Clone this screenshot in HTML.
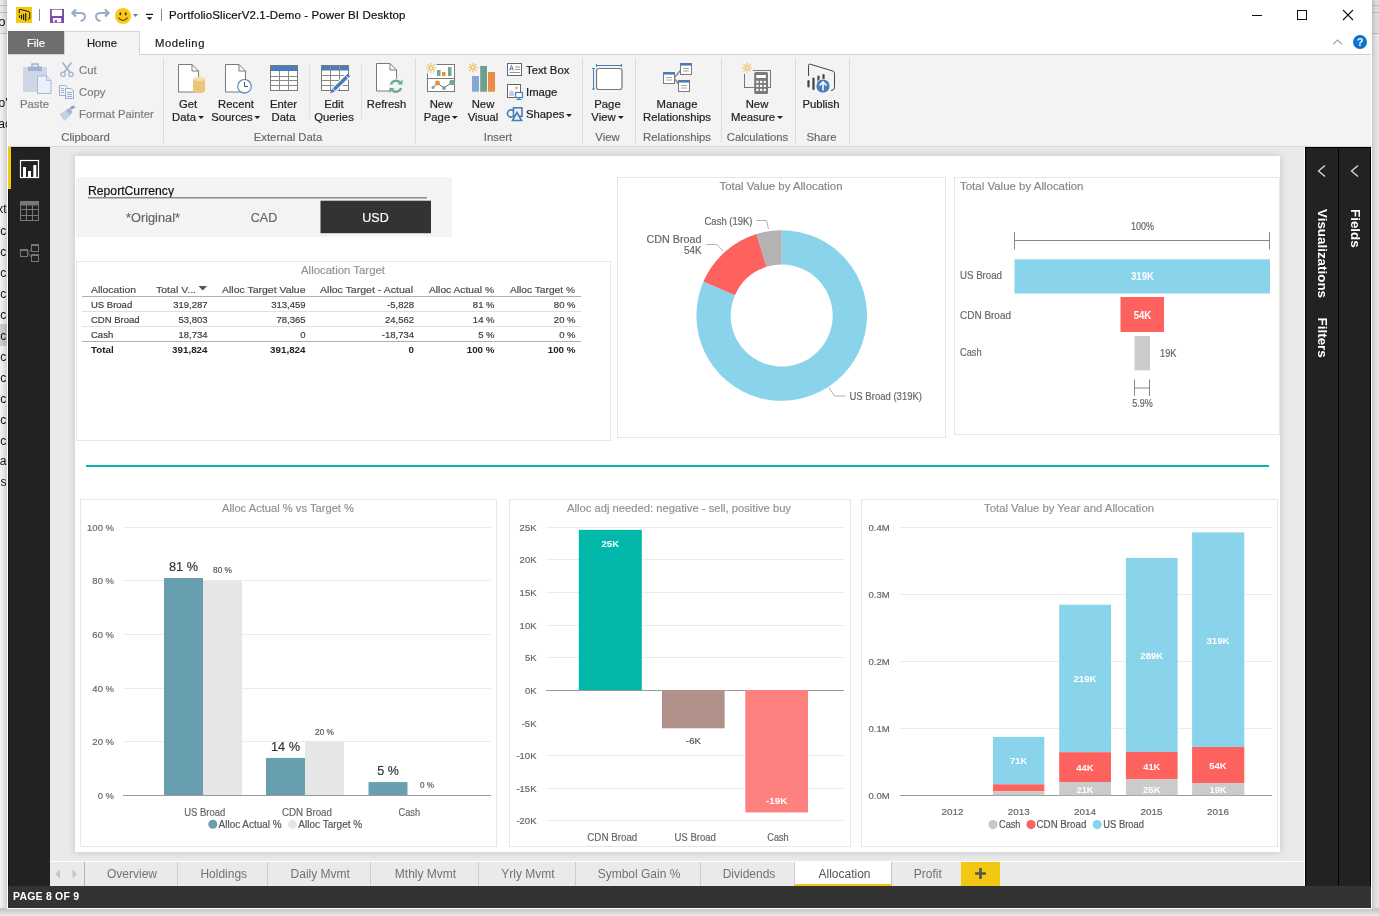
<!DOCTYPE html>
<html><head><meta charset="utf-8"><title>PortfolioSlicerV2.1-Demo - Power BI Desktop</title>
<style>
*{box-sizing:border-box;margin:0;padding:0}
html,body{width:1379px;height:916px;overflow:hidden}
body{position:relative;background:#efefef;font-family:"Liberation Sans",sans-serif;font-size:12px;color:#222}
.a{position:absolute}
.t{position:absolute;white-space:nowrap;line-height:1}
.c{transform:translateX(-50%)}
svg{position:absolute;overflow:visible}
svg text{font-family:"Liberation Sans",sans-serif}
/* ribbon */
.rl{-webkit-text-stroke:.2px #222;position:absolute;white-space:nowrap;line-height:13px;font-size:11.300px;color:#222;text-align:center;transform:translateX(-50%)}
.gl{position:absolute;white-space:nowrap;line-height:1;font-size:11.300px;color:#666;transform:translateX(-50%);top:131.900px;-webkit-text-stroke:.15px #666}
.sep{position:absolute;width:1px;background:#dcdcdc;top:58px;height:85px}
.sep2{position:absolute;width:1px;background:#e0e0e0;top:64px;height:55px}
.sm{-webkit-text-stroke:.2px #222;position:absolute;white-space:nowrap;line-height:1;font-size:11.300px;color:#222}
.dis{color:#7e7e7e;-webkit-text-stroke:.2px #7e7e7e}
.tab{position:absolute;top:862px;height:24px;line-height:24px;font-size:13px;color:#666;text-align:center;border-right:1px solid #c8c8c8}
</style></head><body>
<!-- BACKDROP -->
<div class="a" id="bg-left" style="left:0;top:0;width:8px;height:916px;background:#f1f1f1;overflow:hidden">
<div class="a" style="left:0;top:0;width:8px;height:34px;background:#eaeaea"></div>
<div class="a" style="left:0;top:5px;width:8px;height:1px;background:#c4c4c4"></div>
<div class="a" style="left:0;top:12px;width:8px;height:1px;background:#c4c4c4"></div>
<div class="a" style="left:0;top:33px;width:8px;height:1px;background:#c4c4c4"></div>
<div class="a" style="left:0;top:324px;width:8px;height:22px;background:#cdcdcd"></div>
<div class="t" style="right:2.5px;top:15.2px;font-size:13px;color:#111">Info</div>
<div class="t" style="right:0.5px;top:97.0px;font-size:12px;color:#111">o'</div>
<div class="t" style="right:-3px;top:118.0px;font-size:12px;color:#111">ac</div>
<div class="t" style="right:1.5px;top:202.6px;font-size:12px;color:#111">Text</div>
<div class="t" style="right:1.8px;top:224.5px;font-size:12px;color:#111">Calc</div>
<div class="t" style="right:1.8px;top:245.5px;font-size:12px;color:#111">Calc</div>
<div class="t" style="right:1.8px;top:266.5px;font-size:12px;color:#111">Calc</div>
<div class="t" style="right:1.8px;top:287.5px;font-size:12px;color:#111">Calc</div>
<div class="t" style="right:1.8px;top:308.5px;font-size:12px;color:#111">Calc</div>
<div class="t" style="right:1.8px;top:329.5px;font-size:12px;color:#111">Calc</div>
<div class="t" style="right:1.8px;top:350.5px;font-size:12px;color:#111">Calc</div>
<div class="t" style="right:1.8px;top:371.5px;font-size:12px;color:#111">Calc</div>
<div class="t" style="right:1.8px;top:392.5px;font-size:12px;color:#111">Calc</div>
<div class="t" style="right:1.8px;top:413.5px;font-size:12px;color:#111">Calc</div>
<div class="t" style="right:1.8px;top:434.5px;font-size:12px;color:#111">Calc</div>
<div class="t" style="right:-1px;top:455.3px;font-size:12px;color:#111">al</div>
<div class="t" style="right:1.5px;top:476.3px;font-size:12px;color:#111">es</div>
<div class="a" style="left:1px;top:0;width:6px;height:916px;background:linear-gradient(90deg,rgba(0,0,0,0) 0,rgba(0,0,0,.035) 1.500px,rgba(0,0,0,.085) 4px,rgba(0,0,0,.15) 6px)"></div><div class="a" style="left:7px;top:0;width:1px;height:909px;background:#fff"></div>
</div>
<div class="a" id="bg-right" style="left:1372px;top:0;width:7px;height:916px;background:linear-gradient(90deg,#c6c6c6 0,#dcdcdc 3px,#e7e7e7 7px)"></div>
<div class="a" style="left:1372px;top:5px;width:7px;height:1px;background:rgba(0,0,0,.13)"></div><div class="a" style="left:1372px;top:12px;width:7px;height:1px;background:rgba(0,0,0,.13)"></div><div class="a" style="left:1372px;top:33px;width:7px;height:1px;background:rgba(0,0,0,.13)"></div><div class="a" style="left:1372px;top:0;width:7px;height:34px;background:rgba(0,0,0,.03)"></div>
<div class="a" id="bg-bottom" style="left:0;top:908px;width:1379px;height:8px;background:linear-gradient(180deg,#c6c6c6 0,#c9c9c9 2px,#dadada 5px,#e9e9e9 8px)"></div>
<!-- WINDOW -->
<div class="a" style="left:7px;top:908px;width:1365px;height:1px;background:#fbfbfb"></div>
<div class="a" id="win" style="left:8px;top:0;width:1364px;height:908px;background:#eaeaea;border-right:1px solid #fff"></div>
<div class="a" style="left:8px;top:0;width:1364px;height:31px;background:#fff"></div>
<svg style="left:16px;top:7px" width="16" height="16" viewBox="0 0 16 16"><rect width="16" height="16" fill="#f2c811"/><path d="M3.3 6.3V3.1q0-.9.9-.7l8.6 2.2q.9.3.9 1.200v5.400q0 .9-1.500 1.100" fill="none" stroke="#111" stroke-width="1"/><path d="M3.500 8.800v1.400M5.500 8v3.600M7.600 7.300v5.200M9.700 6.500v7" stroke="#111" stroke-width="1.100" stroke-linecap="round"/></svg>
<div class="a" style="left:39px;top:9px;width:1px;height:12px;background:#8a8a8a"></div>
<svg style="left:50px;top:9px" width="14" height="14" viewBox="0 0 14 14"><rect width="14" height="14" fill="#7d4aa9"/><rect x="1.800" y=".7" width="10.300" height="6.300" fill="#fff"/><rect x="2.900" y="9" width="8.300" height="4.300" fill="#fff"/><rect x="4.800" y="11" width="2.100" height="2.300" fill="#7d4aa9"/></svg>
<svg style="left:72px;top:9px" width="15" height="14" viewBox="0 0 15 14"><path d="M4 .5L.5 4 4 7.500" fill="none" stroke="#99adca" stroke-width="2.400"/><path d="M1.500 4H8.500C12 4 13 6 13 7.500 13 10 11 11.500 8.500 12" fill="none" stroke="#99adca" stroke-width="2"/></svg>
<svg style="left:94px;top:9px" width="15" height="14" viewBox="0 0 15 14"><path d="M11 .5L14.500 4 11 7.500" fill="none" stroke="#99adca" stroke-width="2.400"/><path d="M13.500 4H6.500C3 4 2 6 2 7.500 2 10 4 11.500 6.500 12" fill="none" stroke="#99adca" stroke-width="2"/></svg>
<svg style="left:115px;top:8px" width="16" height="16" viewBox="0 0 16 16"><circle cx="8" cy="8" r="8" fill="#fbc816"/><ellipse cx="5.300" cy="5.800" rx="1" ry="1.600" fill="#333"/><ellipse cx="10.700" cy="5.800" rx="1" ry="1.600" fill="#333"/><path d="M3.400 9.600q4.600 5.800 9.200 0" fill="none" stroke="#4a4220" stroke-width="1.100"/></svg>
<svg style="left:133px;top:14px" width="6" height="4" viewBox="0 0 6 4"><path d="M0 0h5l-2.500 3z" fill="#777"/></svg>
<svg style="left:145px;top:12px" width="9" height="9" viewBox="0 0 9 9"><path d="M1 2.400h7" stroke="#111" stroke-width="1.200"/><path d="M1.700 5.300h5.600l-2.800 2.800z" fill="#111"/></svg>
<div class="a" style="left:161px;top:9px;width:1px;height:12px;background:#8a8a8a"></div>
<div class="t" id="title" style="-webkit-text-stroke:.2px #111;left:169px;top:10.200px;font-size:11.500px;color:#111;letter-spacing:.12px">PortfolioSlicerV2.1-Demo - Power BI Desktop</div>
<div class="a" style="left:1252px;top:15px;width:10px;height:1px;background:#111"></div>
<div class="a" style="left:1297px;top:10px;width:10px;height:10px;border:1px solid #111"></div>
<svg style="left:1343px;top:10px" width="10" height="10" viewBox="0 0 10 10"><path d="M0 0l10 10M10 0l-10 10" stroke="#111" stroke-width="1.100"/></svg>

<div class="a" style="left:8px;top:31px;width:1364px;height:23px;background:#fff"></div>
<div class="a" style="left:8px;top:54px;width:1363px;height:1px;background:#d4d4d4"></div>
<div class="a" style="left:8px;top:31px;width:56px;height:23px;background:#6e6e6e"></div>
<div class="t c" style="left:36px;top:38.200px;font-size:11.300px;color:#fff;-webkit-text-stroke:.2px #fff">File</div>
<div class="a" style="left:64px;top:31px;width:76px;height:24px;background:#f3f3f3;border:1px solid #d4d4d4;border-bottom:none"></div>
<div class="t c" style="left:102px;top:38.200px;font-size:11.300px;color:#222;-webkit-text-stroke:.2px #222">Home</div>
<div class="t c" style="left:180px;top:38.200px;font-size:11.300px;color:#222;letter-spacing:.5px;-webkit-text-stroke:.2px #222">Modeling</div>
<svg style="left:1333px;top:39px" width="9" height="6" viewBox="0 0 9 6"><path d="M.3 5.200L4.500 1l4.200 4.200" fill="none" stroke="#9a9a9a" stroke-width="1.100"/></svg>
<svg style="left:1353px;top:35px" width="14" height="14" viewBox="0 0 14 14"><circle cx="7" cy="7" r="7" fill="#0a74cc"/><text x="7" y="11" text-anchor="middle" font-size="11" font-weight="bold" fill="#fff">?</text></svg>

<div class="a" style="left:8px;top:55px;width:1363px;height:92px;background:#f3f3f3;border-bottom:1px solid #d8d8d8"></div>
<div class="a" style="left:65px;top:54px;width:74px;height:2px;background:#f3f3f3"></div>
<svg style="left:0;top:0" width="1379" height="147" viewBox="0 0 1379 147">
<!-- paste -->
<rect x="23" y="67" width="24" height="25" fill="#cdd7e8"/><rect x="28" y="66.500" width="14" height="4.500" fill="#a3b2cf"/><rect x="32" y="64" width="6" height="4" fill="none" stroke="#a3b2cf" stroke-width="1.500"/>
<path d="M37.500 75.900h9l4.500 4.500v13.100h-13.500z" fill="#e9f1fb" stroke="#a9b9d6"/><path d="M46.500 75.900v4.500h4.500" fill="none" stroke="#a9b9d6"/>
<!-- cut -->
<g stroke="#9fb0cd" fill="none" stroke-width="1.600"><path d="M62.500 62.500l7.500 10M71.500 62.500l-7.500 10"/><circle cx="63" cy="74.300" r="2.200" stroke-width="1.200"/><circle cx="71" cy="74.300" r="2.200" stroke-width="1.200"/></g>
<!-- copy -->
<g stroke="#9fb0cd" fill="#f3f3f3" stroke-width="1"><path d="M59.500 85.500h6l2 2v8h-8z"/><path d="M65.500 88.500h5.500l2.500 2.500v7.500h-8z"/></g><path d="M61 88.500h3M61 90.500h3M61 92.500h3M67 92.500h5M67 94.500h5M67 96.500h5" stroke="#9fb0cd" stroke-width="1" fill="none"/>
<!-- format painter -->
<path d="M59.500 114l7-4 4 5.500-6 5.500z" fill="#c5d0e4"/><path d="M66 110l3.500-2 3 4-2.500 3z" fill="#a3b2cf"/><path d="M70.500 108.500l4-2" stroke="#8fa3c6" stroke-width="3"/>
<!-- get data -->
<path d="M178.5 64.5h13.5l6.5 6.5v21h-20z" fill="#fff" stroke="#7a7a7a" stroke-width="1"/><path d="M192 64.5v6.5h6.5" fill="none" stroke="#7a7a7a" stroke-width="1"/>
<path d="M193 79v12a6 2 0 0 0 12 0v-12z" fill="#ecc47a"/><ellipse cx="199" cy="79" rx="6" ry="2.200" fill="#f6dcae"/>
<!-- recent -->
<path d="M225.5 64.5h13.5l6.5 6.5v21h-20z" fill="#fff" stroke="#7a7a7a" stroke-width="1"/><path d="M239 64.5v6.5h6.5" fill="none" stroke="#7a7a7a" stroke-width="1"/>
<circle cx="244.500" cy="86.300" r="6.800" fill="#fff" stroke="#4a7ebb" stroke-width="1.100"/><path d="M244.500 82v4.500h3.500" fill="none" stroke="#555" stroke-width="1"/>
<!-- enter data -->
<rect x="270.500" y="65.500" width="27" height="25" fill="#fff" stroke="#7a7a7a"/><rect x="271" y="66" width="26" height="5" fill="#4a7ebb"/><path d="M271 76.500h26M271 80.500h26M271 85.500h26M279.500 71v19M288.500 71v19" stroke="#8a8a8a" stroke-width="1"/>
<!-- edit queries -->
<rect x="321.500" y="65.500" width="27" height="25" fill="#fff" stroke="#7a7a7a"/><rect x="322" y="66" width="26" height="4.500" fill="#4a7ebb"/><path d="M322 75.500h26M322 80.500h26M322 85.500h26M330.500 66v24M339.500 66v24" stroke="#8a8a8a" stroke-width="1"/>
<path d="M348.500 75.500L333.500 90" stroke="#fff" stroke-width="6"/><path d="M348.800 75L334 89.500" stroke="#4a7ebb" stroke-width="3.600"/><path d="M330 93.500l2-5 3 3z" fill="#4a7ebb"/><path d="M346.500 76.500l2.500 2.500" stroke="#fff" stroke-width="1"/>
<!-- refresh -->
<path d="M376.5 63.5h13.5l6.5 6.5v21h-20z" fill="#fff" stroke="#7a7a7a" stroke-width="1"/><path d="M390 63.5v6.5h6.5" fill="none" stroke="#7a7a7a" stroke-width="1"/>
<circle cx="396" cy="86.300" r="7.500" fill="#f3f3f3"/><g fill="none" stroke="#6aab93" stroke-width="2.400"><path d="M391 84.500a5.300 5.300 0 0 1 9-2"/><path d="M401 88a5.300 5.300 0 0 1-9 2"/></g><path d="M402.500 79.500v5h-5z" fill="#6aab93"/><path d="M389.500 93v-5h5z" fill="#6aab93"/>
<!-- new page -->
<rect x="427.500" y="64.500" width="27" height="27" fill="#fff" stroke="#7a7a7a"/><path d="M428 78.500h26" stroke="#7a7a7a"/>
<rect x="437" y="70" width="3.500" height="6" fill="#72a794"/><rect x="442" y="72" width="3.500" height="4" fill="#ed8b3a"/><rect x="448" y="67" width="3.500" height="9" fill="#72a794"/>
<path d="M433 87.500l4.500-4.500 6.500 5 8-5.500" fill="none" stroke="#666" stroke-width="1"/><circle cx="433" cy="87.500" r="1.500" fill="#72a794"/><circle cx="437.500" cy="83" r="2.400" fill="#ed8b3a"/><circle cx="444" cy="88" r="1.900" fill="#72a794"/><circle cx="452" cy="82.500" r="2.800" fill="#72a794"/>
<circle cx="431" cy="67.800" r="6.500" fill="#f3f3f3"/><g stroke="#f0c77c" stroke-width="1.300" fill="none"><path d="M431 62.8v10M426 67.8h10M427.4 64.2l7.2 7.2M434.6 64.2l-7.2 7.2"/></g><circle cx="431" cy="67.8" r="1.700" fill="#f3f3f3" stroke="#f0c77c" stroke-width="1.200"/>
<!-- new visual -->
<rect x="472" y="76" width="7" height="15.700" fill="#84a8d6"/><rect x="480.200" y="66" width="6.800" height="25.700" fill="#6d9f8c"/><rect x="488" y="72" width="7" height="19.700" fill="#ea8c46"/><g stroke="#f0c77c" stroke-width="1.300" fill="none"><path d="M472.9 62.4v10M467.9 67.4h10M469.3 63.8l7.2 7.2M476.5 63.8l-7.2 7.2"/></g><circle cx="472.9" cy="67.4" r="1.700" fill="#f3f3f3" stroke="#f0c77c" stroke-width="1.200"/>
<!-- text box -->
<rect x="507.500" y="63.500" width="14" height="12" fill="#fff" stroke="#666"/><path d="M515 67h5M515 69.500h5M509.500 72.500h10.500" stroke="#8a8a8a" stroke-width=".9"/><path d="M509.500 70.500l2-5 2 5M510.300 69h2.500" fill="none" stroke="#4a7ebb" stroke-width="1"/>
<!-- image -->
<rect x="507.500" y="84.500" width="13" height="13" fill="#fff" stroke="#666"/><circle cx="516.500" cy="88" r="1.300" fill="#eaa65a"/><path d="M509 96v-3.500l2.500-2.500 2.500 2.500v3.500z" fill="#bcd0ea"/><rect x="515.500" y="92.500" width="7" height="5" fill="#fff" stroke="#4a7ebb" stroke-width="1.200"/><path d="M519 97.500v2M516.500 99.500h5" stroke="#4a7ebb" stroke-width="1.200"/>
<!-- shapes -->
<g fill="none" stroke="#4a7ebb" stroke-width="1.600"><circle cx="511" cy="113.500" r="3.600"/><rect x="513.500" y="107.800" width="8.500" height="8.500" fill="#f3f3f3"/><path d="M517 112.500l4.500 8h-9z" fill="#f3f3f3"/></g>
<!-- page view -->
<rect x="596.500" y="68.500" width="25.500" height="21" rx="2.500" fill="#fff" stroke="#777" stroke-width="1.200"/><path d="M596 65.500h26M596.500 64v3M621.500 64v3M593.500 68v21.500M592 68.500h3M592 89h3" stroke="#4a7ebb" stroke-width="1"/>
<!-- manage rel -->
<path d="M674 78l8-9.500M674 78l6 8" stroke="#8a8a8a" stroke-width="1.500"/>
<g fill="#fff" stroke="#7a7a7a"><rect x="663.500" y="72.500" width="11" height="11"/><rect x="680.500" y="63.500" width="11" height="11"/><rect x="678.500" y="80.500" width="11" height="11"/></g>
<rect x="663" y="72" width="12" height="2.600" fill="#4a7ebb"/><rect x="680" y="63" width="12" height="2.600" fill="#4a7ebb"/><rect x="678" y="80" width="12" height="2.600" fill="#4a7ebb"/>
<path d="M666 77.500h6M666 80h6M683 68.500h6M683 71h6M681 85.500h6M681 88h6" stroke="#9a9a9a" stroke-width=".9"/>
<!-- new measure -->
<rect x="744.500" y="70.500" width="26" height="17" fill="#f3f3f3" stroke="#777"/><rect x="754.200" y="72" width="13.800" height="22" rx="1.500" fill="#7a7a7a"/><rect x="756.300" y="75" width="9.600" height="3" fill="#fff"/>
<g fill="#fff"><rect x="756.300" y="80.800" width="2.200" height="2.200"/><rect x="760" y="80.800" width="2.200" height="2.200"/><rect x="763.700" y="80.800" width="2.200" height="2.200"/><rect x="756.300" y="84.800" width="2.200" height="2.200"/><rect x="760" y="84.800" width="2.200" height="2.200"/><rect x="763.700" y="84.800" width="2.200" height="2.200"/><rect x="756.300" y="88.800" width="2.200" height="2.200"/><rect x="760" y="88.800" width="2.200" height="2.200"/><rect x="763.700" y="88.800" width="2.200" height="2.200"/></g>
<circle cx="747.100" cy="67.800" r="6.500" fill="#f3f3f3"/><g stroke="#f0c77c" stroke-width="1.300" fill="none"><path d="M747.1 62.8v10M742.1 67.8h10M743.5 64.2l7.2 7.2M750.7 64.2l-7.2 7.2"/></g><circle cx="747.1" cy="67.8" r="1.700" fill="#f3f3f3" stroke="#f0c77c" stroke-width="1.200"/>
<!-- publish -->
<path d="M808.500 76v-10.500q0-1.800 1.800-1.300l22.400 6.800q1.800.6 1.800 2.400v14q0 3-3.500 3.200" fill="none" stroke="#444" stroke-width="1"/>
<path d="M808.500 81v5.500M813.500 78.500v10.500M818.500 76.500v6M823.500 75v4" stroke="#444" stroke-width="2.200" stroke-linecap="round"/>
<circle cx="823" cy="86" r="7.300" fill="#f3f3f3"/><circle cx="823" cy="86" r="6.600" fill="#4a7ebb"/><path d="M823 90.500v-8M819.500 85.500l3.500-3.500 3.500 3.500" fill="none" stroke="#fff" stroke-width="1.600"/>
</svg>
<div class="rl dis" style="left:34.5px;top:97.500px">Paste</div>
<div class="rl" style="left:188px;top:97.500px">Get<br>Data<span style="display:inline-block;width:0;height:0;border:3px solid transparent;border-top:3.500px solid #222;border-bottom:0;margin-left:2px;vertical-align:1.500px"></span></div>
<div class="rl" style="left:236px;top:97.500px">Recent<br>Sources<span style="display:inline-block;width:0;height:0;border:3px solid transparent;border-top:3.500px solid #222;border-bottom:0;margin-left:2px;vertical-align:1.500px"></span></div>
<div class="rl" style="left:283.5px;top:97.500px">Enter<br>Data</div>
<div class="rl" style="left:334px;top:97.500px">Edit<br>Queries</div>
<div class="rl" style="left:386.5px;top:97.500px">Refresh</div>
<div class="rl" style="left:441px;top:97.500px">New<br>Page<span style="display:inline-block;width:0;height:0;border:3px solid transparent;border-top:3.500px solid #222;border-bottom:0;margin-left:2px;vertical-align:1.500px"></span></div>
<div class="rl" style="left:483px;top:97.500px">New<br>Visual</div>
<div class="rl" style="left:607.5px;top:97.500px">Page<br>View<span style="display:inline-block;width:0;height:0;border:3px solid transparent;border-top:3.500px solid #222;border-bottom:0;margin-left:2px;vertical-align:1.500px"></span></div>
<div class="rl" style="left:677px;top:97.500px">Manage<br>Relationships</div>
<div class="rl" style="left:757px;top:97.500px">New<br>Measure<span style="display:inline-block;width:0;height:0;border:3px solid transparent;border-top:3.500px solid #222;border-bottom:0;margin-left:2px;vertical-align:1.500px"></span></div>
<div class="rl" style="left:821px;top:97.500px">Publish</div>
<div class="sm dis" style="left:79px;top:64.900px">Cut</div>
<div class="sm dis" style="left:79px;top:87.100px">Copy</div>
<div class="sm dis" style="left:79px;top:109.100px">Format Painter</div>
<div class="sm" style="left:526px;top:64.900px">Text Box</div>
<div class="sm" style="left:526px;top:87.100px">Image</div>
<div class="sm" style="left:526px;top:109.100px">Shapes<span style="display:inline-block;width:0;height:0;border:3px solid transparent;border-top:3.500px solid #222;border-bottom:0;margin-left:2px;vertical-align:1.500px"></span></div>
<div class="gl" style="left:85.5px">Clipboard</div>
<div class="gl" style="left:288px">External Data</div>
<div class="gl" style="left:498px">Insert</div>
<div class="gl" style="left:607.5px">View</div>
<div class="gl" style="left:677px">Relationships</div>
<div class="gl" style="left:757.5px">Calculations</div>
<div class="gl" style="left:821.5px">Share</div>
<div class="sep" style="left:163px"></div><div class="sep" style="left:415px"></div><div class="sep" style="left:582px"></div><div class="sep" style="left:635px"></div><div class="sep" style="left:721px"></div><div class="sep" style="left:795px"></div><div class="sep" style="left:849px"></div><div class="sep2" style="left:309px"></div><div class="sep2" style="left:361px"></div>

<!--NAV-->
<div class="a" style="left:8px;top:147px;width:42px;height:739px;background:#222;border-left:1px solid #111;border-top:1px solid #111"></div>
<div class="a" style="left:8px;top:147px;width:3px;height:42px;background:#f2c811"></div>
<svg style="left:0;top:0" width="60" height="300" viewBox="0 0 60 300">
<rect x="20.500" y="160.500" width="18" height="17" fill="none" stroke="#fff" stroke-width="1.200"/><rect x="23" y="167" width="3" height="10.500" fill="#fff"/><rect x="28" y="171" width="3" height="6.500" fill="#fff"/><rect x="33.300" y="165" width="3" height="12.500" fill="#fff"/>
<g stroke="#777" fill="none" stroke-width="1"><rect x="20.500" y="201.500" width="18" height="19"/><path d="M20.500 209.500h18M20.500 215.500h18M26.500 205v15.500M32.500 205v15.500"/></g><rect x="20" y="201" width="19" height="4.500" fill="#777"/>
<g stroke="#777" fill="none" stroke-width="1"><rect x="20.500" y="249.500" width="7" height="7"/><rect x="31.500" y="244.500" width="7" height="7"/><rect x="31.500" y="254.500" width="7" height="7"/><path d="M27.500 253l4-4M27.500 253l4 4"/></g><rect x="20" y="249" width="8" height="2" fill="#777"/><rect x="31" y="244" width="8" height="2" fill="#777"/><rect x="31" y="254" width="8" height="2" fill="#777"/>
</svg>
<!--/NAV-->
<!--CANVAS-->
<div class="a" style="left:75px;top:156px;width:1205px;height:696px;background:#fff;box-shadow:0 0 7px 1px rgba(0,0,0,.13)"></div>
<svg style="left:0;top:0" width="1379" height="916" viewBox="0 0 1379 916" id="cv">
<rect x="76" y="177" width="376" height="60" fill="#f4f4f4"/>
<text x="88" y="195" font-size="12.5" fill="#111" textLength="86" lengthAdjust="spacingAndGlyphs" stroke="#111" stroke-width=".18">ReportCurrency</text>
<rect x="88" y="197" width="339" height="1.5" fill="#8c8c8c"/>
<text x="153" y="222" font-size="12.5" fill="#666" text-anchor="middle" textLength="54" lengthAdjust="spacingAndGlyphs" stroke="#666" stroke-width=".18">*Original*</text>
<text x="264" y="222" font-size="12.5" fill="#666" text-anchor="middle" stroke="#666" stroke-width=".18">CAD</text>
<rect x="320.5" y="200.7" width="110.5" height="32.5" fill="#333"/>
<text x="375.5" y="222" font-size="12.5" fill="#fff" text-anchor="middle" stroke="#fff" stroke-width=".18">USD</text>
<rect x="76.5" y="261.5" width="534" height="179" fill="none" stroke="#e6e6e6" stroke-width="1"/>
<text x="343" y="273.8" font-size="11.5" fill="#929292" text-anchor="middle" textLength="84" lengthAdjust="spacingAndGlyphs" stroke="#929292" stroke-width=".18">Allocation Target</text>
<text x="91" y="292.5" font-size="9.8" fill="#4a4a4a" textLength="45" lengthAdjust="spacingAndGlyphs" stroke="#4a4a4a" stroke-width=".18">Allocation</text>
<text x="156" y="292.5" font-size="9.8" fill="#4a4a4a" textLength="40" lengthAdjust="spacingAndGlyphs" stroke="#4a4a4a" stroke-width=".18">Total V...</text>
<text x="305.5" y="292.5" font-size="9.8" fill="#4a4a4a" text-anchor="end" textLength="83.5" lengthAdjust="spacingAndGlyphs" stroke="#4a4a4a" stroke-width=".18">Alloc Target Value</text>
<text x="413" y="292.5" font-size="9.8" fill="#4a4a4a" text-anchor="end" textLength="93" lengthAdjust="spacingAndGlyphs" stroke="#4a4a4a" stroke-width=".18">Alloc Target - Actual</text>
<text x="494" y="292.5" font-size="9.8" fill="#4a4a4a" text-anchor="end" textLength="65" lengthAdjust="spacingAndGlyphs" stroke="#4a4a4a" stroke-width=".18">Alloc Actual %</text>
<text x="575" y="292.5" font-size="9.8" fill="#4a4a4a" text-anchor="end" textLength="65" lengthAdjust="spacingAndGlyphs" stroke="#4a4a4a" stroke-width=".18">Alloc Target %</text>
<path d="M198.500 286h8.500l-4.250 4.500z" fill="#555"/>
<rect x="82" y="296" width="499" height="1" fill="#b0b0b0"/>
<rect x="82" y="311" width="499" height="1" fill="#e0e0e0"/>
<rect x="82" y="326" width="499" height="1" fill="#e0e0e0"/>
<rect x="82" y="341" width="499" height="1" fill="#b0b0b0"/>
<text x="91" y="307.6" font-size="9.5" fill="#3a3a3a" stroke="#3a3a3a" stroke-width=".18">US Broad</text>
<text x="207.5" y="307.6" font-size="9.5" fill="#3a3a3a" text-anchor="end" stroke="#3a3a3a" stroke-width=".18">319,287</text>
<text x="305.5" y="307.6" font-size="9.5" fill="#3a3a3a" text-anchor="end" stroke="#3a3a3a" stroke-width=".18">313,459</text>
<text x="414" y="307.6" font-size="9.5" fill="#3a3a3a" text-anchor="end" stroke="#3a3a3a" stroke-width=".18">-5,828</text>
<text x="494.5" y="307.6" font-size="9.5" fill="#3a3a3a" text-anchor="end" stroke="#3a3a3a" stroke-width=".18">81 %</text>
<text x="575.5" y="307.6" font-size="9.5" fill="#3a3a3a" text-anchor="end" stroke="#3a3a3a" stroke-width=".18">80 %</text>
<text x="91" y="322.6" font-size="9.5" fill="#3a3a3a" stroke="#3a3a3a" stroke-width=".18">CDN Broad</text>
<text x="207.5" y="322.6" font-size="9.5" fill="#3a3a3a" text-anchor="end" stroke="#3a3a3a" stroke-width=".18">53,803</text>
<text x="305.5" y="322.6" font-size="9.5" fill="#3a3a3a" text-anchor="end" stroke="#3a3a3a" stroke-width=".18">78,365</text>
<text x="414" y="322.6" font-size="9.5" fill="#3a3a3a" text-anchor="end" stroke="#3a3a3a" stroke-width=".18">24,562</text>
<text x="494.5" y="322.6" font-size="9.5" fill="#3a3a3a" text-anchor="end" stroke="#3a3a3a" stroke-width=".18">14 %</text>
<text x="575.5" y="322.6" font-size="9.5" fill="#3a3a3a" text-anchor="end" stroke="#3a3a3a" stroke-width=".18">20 %</text>
<text x="91" y="337.6" font-size="9.5" fill="#3a3a3a" stroke="#3a3a3a" stroke-width=".18">Cash</text>
<text x="207.5" y="337.6" font-size="9.5" fill="#3a3a3a" text-anchor="end" stroke="#3a3a3a" stroke-width=".18">18,734</text>
<text x="305.5" y="337.6" font-size="9.5" fill="#3a3a3a" text-anchor="end" stroke="#3a3a3a" stroke-width=".18">0</text>
<text x="414" y="337.6" font-size="9.5" fill="#3a3a3a" text-anchor="end" stroke="#3a3a3a" stroke-width=".18">-18,734</text>
<text x="494.5" y="337.6" font-size="9.5" fill="#3a3a3a" text-anchor="end" stroke="#3a3a3a" stroke-width=".18">5 %</text>
<text x="575.5" y="337.6" font-size="9.5" fill="#3a3a3a" text-anchor="end" stroke="#3a3a3a" stroke-width=".18">0 %</text>
<text x="91" y="352.6" font-size="9.8" fill="#222" font-weight="bold">Total</text>
<text x="207.5" y="352.6" font-size="9.8" fill="#222" text-anchor="end" font-weight="bold">391,824</text>
<text x="305.5" y="352.6" font-size="9.8" fill="#222" text-anchor="end" font-weight="bold">391,824</text>
<text x="414" y="352.6" font-size="9.8" fill="#222" text-anchor="end" font-weight="bold">0</text>
<text x="494.5" y="352.6" font-size="9.8" fill="#222" text-anchor="end" font-weight="bold">100 %</text>
<text x="575.5" y="352.6" font-size="9.8" fill="#222" text-anchor="end" font-weight="bold">100 %</text>
<rect x="617.5" y="177.5" width="328" height="260" fill="none" stroke="#e6e6e6" stroke-width="1"/>
<text x="781" y="190" font-size="11.5" fill="#868686" text-anchor="middle" textLength="123" lengthAdjust="spacingAndGlyphs" stroke="#868686" stroke-width=".18">Total Value by Allocation</text>
<path d="M781.70 230.20A85.3 85.3 0 1 1 703.42 281.62L734.89 295.25A51 51 0 1 0 781.70 264.50z" fill="#8ad4eb"/>
<path d="M703.42 281.62A85.3 85.3 0 0 1 756.48 234.01L766.62 266.78A51 51 0 0 0 734.89 295.25z" fill="#fd625e"/>
<path d="M756.48 234.01A85.3 85.3 0 0 1 781.70 230.20L781.70 264.50A51 51 0 0 0 766.62 266.78z" fill="#b3b3b3"/>
<g fill="none" stroke="#b0b0b0" stroke-width="1"><path d="M756.500 220.500h10l2 8.500"/><path d="M706.500 244.500h10.500l6 6.500"/><path d="M829 387.500l5.500 8.500h11"/></g>
<text x="752.5" y="225" font-size="10.5" fill="#666" text-anchor="end" textLength="48" lengthAdjust="spacingAndGlyphs" stroke="#666" stroke-width=".18">Cash (19K)</text>
<text x="701.5" y="242.8" font-size="10.5" fill="#666" text-anchor="end" textLength="55" lengthAdjust="spacingAndGlyphs" stroke="#666" stroke-width=".18">CDN Broad</text>
<text x="701.5" y="254.2" font-size="10.5" fill="#666" text-anchor="end" textLength="17.5" lengthAdjust="spacingAndGlyphs" stroke="#666" stroke-width=".18">54K</text>
<text x="849.5" y="400.3" font-size="10.5" fill="#666" textLength="72.5" lengthAdjust="spacingAndGlyphs" stroke="#666" stroke-width=".18">US Broad (319K)</text>
<rect x="954.5" y="177.5" width="325" height="257" fill="none" stroke="#e6e6e6" stroke-width="1"/>
<text x="960" y="190" font-size="11.5" fill="#888" textLength="123.5" lengthAdjust="spacingAndGlyphs" stroke="#888" stroke-width=".18">Total Value by Allocation</text>
<text x="1142.5" y="230.3" font-size="10.3" fill="#666" text-anchor="middle" textLength="23" lengthAdjust="spacingAndGlyphs" stroke="#666" stroke-width=".18">100%</text>
<path d="M1014.500 240.500h255M1014.500 232v17.500M1269.500 232v17.500M1134.500 388h15.500M1134.500 379.500v16.500M1149.500 379.500v16.500" stroke="#888" stroke-width="1" fill="none"/>
<rect x="1014.5" y="259.3" width="255.5" height="34.2" fill="#8ad4eb"/>
<text x="1142.5" y="280" font-size="10.5" fill="#fff" text-anchor="middle" font-weight="bold" textLength="23" lengthAdjust="spacingAndGlyphs">319K</text>
<rect x="1120.5" y="297" width="43.5" height="35" fill="#fd625e"/>
<text x="1142.5" y="318.5" font-size="10.5" fill="#fff" text-anchor="middle" font-weight="bold" textLength="17.5" lengthAdjust="spacingAndGlyphs">54K</text>
<rect x="1134.5" y="336" width="15.5" height="34.3" fill="#cbcbcb"/>
<text x="1160" y="357" font-size="10" fill="#666" textLength="16.5" lengthAdjust="spacingAndGlyphs" stroke="#666" stroke-width=".18">19K</text>
<text x="1142.5" y="407.3" font-size="10.3" fill="#666" text-anchor="middle" textLength="20.5" lengthAdjust="spacingAndGlyphs" stroke="#666" stroke-width=".18">5.9%</text>
<text x="960" y="279" font-size="10.5" fill="#666" textLength="42" lengthAdjust="spacingAndGlyphs" stroke="#666" stroke-width=".18">US Broad</text>
<text x="960" y="318.5" font-size="10.5" fill="#666" textLength="51" lengthAdjust="spacingAndGlyphs" stroke="#666" stroke-width=".18">CDN Broad</text>
<text x="960" y="356.3" font-size="10.5" fill="#666" textLength="21.5" lengthAdjust="spacingAndGlyphs" stroke="#666" stroke-width=".18">Cash</text>
<rect x="86" y="465" width="1183" height="2" fill="#01b8aa"/>
<rect x="80.5" y="499.5" width="416" height="347" fill="none" stroke="#e6e6e6" stroke-width="1"/>
<text x="288" y="511.8" font-size="11.5" fill="#929292" text-anchor="middle" textLength="132" lengthAdjust="spacingAndGlyphs" stroke="#929292" stroke-width=".18">Alloc Actual % vs Target %</text>
<rect x="123" y="795" width="368" height="1" fill="#9a9a9a"/>
<text x="114" y="799" font-size="9.5" fill="#666" text-anchor="end" stroke="#666" stroke-width=".18">0 %</text>
<rect x="123" y="741" width="368" height="1" fill="#ececec"/>
<text x="114" y="745" font-size="9.5" fill="#666" text-anchor="end" stroke="#666" stroke-width=".18">20 %</text>
<rect x="123" y="688" width="368" height="1" fill="#ececec"/>
<text x="114" y="692" font-size="9.5" fill="#666" text-anchor="end" stroke="#666" stroke-width=".18">40 %</text>
<rect x="123" y="634" width="368" height="1" fill="#ececec"/>
<text x="114" y="638" font-size="9.5" fill="#666" text-anchor="end" stroke="#666" stroke-width=".18">60 %</text>
<rect x="123" y="580" width="368" height="1" fill="#ececec"/>
<text x="114" y="584" font-size="9.5" fill="#666" text-anchor="end" stroke="#666" stroke-width=".18">80 %</text>
<rect x="123" y="527" width="368" height="1" fill="#ececec"/>
<text x="114" y="531" font-size="9.5" fill="#666" text-anchor="end" stroke="#666" stroke-width=".18">100 %</text>
<rect x="164" y="578.015" width="39" height="216.985" fill="#689fb0"/>
<rect x="203" y="580.7" width="39" height="214.3" fill="#e6e6e6"/>
<rect x="266" y="757.91" width="39" height="37.09" fill="#689fb0"/>
<rect x="305" y="741.8" width="39" height="53.2" fill="#e6e6e6"/>
<rect x="368.5" y="782.075" width="39" height="12.925" fill="#689fb0"/>
<text x="183.5" y="571" font-size="12.5" fill="#333" text-anchor="middle" textLength="29" lengthAdjust="spacingAndGlyphs" stroke="#333" stroke-width=".18">81 %</text>
<text x="222.5" y="573.3" font-size="8.5" fill="#555" text-anchor="middle" textLength="19" lengthAdjust="spacingAndGlyphs" stroke="#555" stroke-width=".18">80 %</text>
<text x="285.5" y="751" font-size="12.5" fill="#333" text-anchor="middle" textLength="29" lengthAdjust="spacingAndGlyphs" stroke="#333" stroke-width=".18">14 %</text>
<text x="324.5" y="735.3" font-size="8.5" fill="#555" text-anchor="middle" textLength="19" lengthAdjust="spacingAndGlyphs" stroke="#555" stroke-width=".18">20 %</text>
<text x="388" y="775" font-size="12.5" fill="#333" text-anchor="middle" textLength="21.5" lengthAdjust="spacingAndGlyphs" stroke="#333" stroke-width=".18">5 %</text>
<text x="427" y="788" font-size="8.5" fill="#555" text-anchor="middle" textLength="14" lengthAdjust="spacingAndGlyphs" stroke="#555" stroke-width=".18">0 %</text>
<text x="204.7" y="815.5" font-size="10" fill="#666" text-anchor="middle" textLength="41" lengthAdjust="spacingAndGlyphs" stroke="#666" stroke-width=".18">US Broad</text>
<text x="307" y="815.5" font-size="10" fill="#666" text-anchor="middle" textLength="50" lengthAdjust="spacingAndGlyphs" stroke="#666" stroke-width=".18">CDN Broad</text>
<text x="409.3" y="815.5" font-size="10" fill="#666" text-anchor="middle" textLength="21.5" lengthAdjust="spacingAndGlyphs" stroke="#666" stroke-width=".18">Cash</text>
<circle cx="212.800" cy="824.300" r="4.500" fill="#689fb0"/><circle cx="292.500" cy="824.300" r="4.500" fill="#e6e6e6"/>
<text x="218.6" y="828" font-size="10" fill="#555" textLength="63" lengthAdjust="spacingAndGlyphs" stroke="#555" stroke-width=".18">Alloc Actual %</text>
<text x="298.3" y="828" font-size="10" fill="#555" textLength="64" lengthAdjust="spacingAndGlyphs" stroke="#555" stroke-width=".18">Alloc Target %</text>
<rect x="509.5" y="499.5" width="341" height="347" fill="none" stroke="#e6e6e6" stroke-width="1"/>
<text x="679" y="511.8" font-size="11.5" fill="#929292" text-anchor="middle" textLength="224" lengthAdjust="spacingAndGlyphs" stroke="#929292" stroke-width=".18">Alloc adj needed: negative - sell, positive buy</text>
<rect x="546" y="820" width="298" height="1" fill="#ececec"/>
<text x="536.5" y="824" font-size="9.5" fill="#666" text-anchor="end" stroke="#666" stroke-width=".18">-20K</text>
<rect x="546" y="788" width="298" height="1" fill="#ececec"/>
<text x="536.5" y="792" font-size="9.5" fill="#666" text-anchor="end" stroke="#666" stroke-width=".18">-15K</text>
<rect x="546" y="755" width="298" height="1" fill="#ececec"/>
<text x="536.5" y="759" font-size="9.5" fill="#666" text-anchor="end" stroke="#666" stroke-width=".18">-10K</text>
<text x="536.5" y="726.5" font-size="9.5" fill="#666" text-anchor="end" stroke="#666" stroke-width=".18">-5K</text>
<rect x="546" y="690" width="298" height="1" fill="#9a9a9a"/>
<text x="536.5" y="694" font-size="9.5" fill="#666" text-anchor="end" stroke="#666" stroke-width=".18">0K</text>
<rect x="546" y="657" width="298" height="1" fill="#ececec"/>
<text x="536.5" y="661" font-size="9.5" fill="#666" text-anchor="end" stroke="#666" stroke-width=".18">5K</text>
<rect x="546" y="625" width="298" height="1" fill="#ececec"/>
<text x="536.5" y="629" font-size="9.5" fill="#666" text-anchor="end" stroke="#666" stroke-width=".18">10K</text>
<rect x="546" y="592" width="298" height="1" fill="#ececec"/>
<text x="536.5" y="596" font-size="9.5" fill="#666" text-anchor="end" stroke="#666" stroke-width=".18">15K</text>
<rect x="546" y="559" width="298" height="1" fill="#ececec"/>
<text x="536.5" y="563" font-size="9.5" fill="#666" text-anchor="end" stroke="#666" stroke-width=".18">20K</text>
<rect x="546" y="527" width="298" height="1" fill="#ececec"/>
<text x="536.5" y="531" font-size="9.5" fill="#666" text-anchor="end" stroke="#666" stroke-width=".18">25K</text>
<rect x="578.8" y="529.856" width="63" height="160.144" fill="#01b8aa"/>
<text x="610.3" y="546.5" font-size="9.5" fill="#fff" text-anchor="middle" font-weight="bold" textLength="17.5" lengthAdjust="spacingAndGlyphs">25K</text>
<rect x="662" y="690" width="62.6" height="38.2986" fill="#b19189"/>
<text x="693.5" y="744" font-size="9.5" fill="#555" text-anchor="middle" textLength="15" lengthAdjust="spacingAndGlyphs" stroke="#555" stroke-width=".18">-6K</text>
<rect x="745.3" y="690" width="62.7" height="122.446" fill="#fd817e"/>
<text x="776.7" y="804.3" font-size="9.5" fill="#fff" text-anchor="middle" font-weight="bold" textLength="21.5" lengthAdjust="spacingAndGlyphs">-19K</text>
<text x="612.3" y="840.5" font-size="10" fill="#666" text-anchor="middle" textLength="50" lengthAdjust="spacingAndGlyphs" stroke="#666" stroke-width=".18">CDN Broad</text>
<text x="695.2" y="840.5" font-size="10" fill="#666" text-anchor="middle" textLength="41.5" lengthAdjust="spacingAndGlyphs" stroke="#666" stroke-width=".18">US Broad</text>
<text x="778" y="840.5" font-size="10" fill="#666" text-anchor="middle" textLength="21.5" lengthAdjust="spacingAndGlyphs" stroke="#666" stroke-width=".18">Cash</text>
<rect x="861.5" y="499.5" width="416" height="347" fill="none" stroke="#e6e6e6" stroke-width="1"/>
<text x="1069" y="511.8" font-size="11.5" fill="#929292" text-anchor="middle" textLength="170" lengthAdjust="spacingAndGlyphs" stroke="#929292" stroke-width=".18">Total Value by Year and Allocation</text>
<rect x="899.7" y="795" width="372.3" height="1" fill="#9a9a9a"/>
<text x="889.6" y="799" font-size="9.5" fill="#666" text-anchor="end" stroke="#666" stroke-width=".18">0.0M</text>
<rect x="899.7" y="728" width="372.3" height="1" fill="#ececec"/>
<text x="889.6" y="732" font-size="9.5" fill="#666" text-anchor="end" stroke="#666" stroke-width=".18">0.1M</text>
<rect x="899.7" y="661" width="372.3" height="1" fill="#ececec"/>
<text x="889.6" y="665" font-size="9.5" fill="#666" text-anchor="end" stroke="#666" stroke-width=".18">0.2M</text>
<rect x="899.7" y="594" width="372.3" height="1" fill="#ececec"/>
<text x="889.6" y="598" font-size="9.5" fill="#666" text-anchor="end" stroke="#666" stroke-width=".18">0.3M</text>
<rect x="899.7" y="527" width="372.3" height="1" fill="#ececec"/>
<text x="889.6" y="531" font-size="9.5" fill="#666" text-anchor="end" stroke="#666" stroke-width=".18">0.4M</text>
<rect x="993" y="736.9" width="51.3" height="47.4" fill="#8ad4eb"/>
<rect x="993" y="784.3" width="51.3" height="7" fill="#fd625e"/>
<rect x="993" y="791.3" width="51.3" height="4" fill="#cbcbcb"/>
<rect x="1059.2" y="604.7" width="51.8" height="147.5" fill="#8ad4eb"/>
<rect x="1059.2" y="752.2" width="51.8" height="29.8" fill="#fd625e"/>
<rect x="1059.2" y="782" width="51.8" height="13.3" fill="#cbcbcb"/>
<rect x="1125.9" y="557.9" width="51.7" height="194" fill="#8ad4eb"/>
<rect x="1125.9" y="751.9" width="51.7" height="27.5" fill="#fd625e"/>
<rect x="1125.9" y="779.4" width="51.7" height="15.9" fill="#cbcbcb"/>
<rect x="1192.1" y="532.4" width="52.2" height="214.6" fill="#8ad4eb"/>
<rect x="1192.1" y="747" width="52.2" height="36" fill="#fd625e"/>
<rect x="1192.1" y="783" width="52.2" height="12.3" fill="#cbcbcb"/>
<text x="1018.6" y="764.2" font-size="9.8" fill="#fff" text-anchor="middle" font-weight="bold" textLength="17" lengthAdjust="spacingAndGlyphs">71K</text>
<text x="1085" y="681.8" font-size="9.8" fill="#fff" text-anchor="middle" font-weight="bold" textLength="23" lengthAdjust="spacingAndGlyphs">219K</text>
<text x="1085" y="771.1" font-size="9.8" fill="#fff" text-anchor="middle" font-weight="bold" textLength="17.5" lengthAdjust="spacingAndGlyphs">44K</text>
<text x="1085" y="793.2" font-size="9.8" fill="#fff" text-anchor="middle" font-weight="bold" textLength="17" lengthAdjust="spacingAndGlyphs">21K</text>
<text x="1151.8" y="659.2" font-size="9.8" fill="#fff" text-anchor="middle" font-weight="bold" textLength="23" lengthAdjust="spacingAndGlyphs">289K</text>
<text x="1151.8" y="769.7" font-size="9.8" fill="#fff" text-anchor="middle" font-weight="bold" textLength="17" lengthAdjust="spacingAndGlyphs">41K</text>
<text x="1151.8" y="792.5" font-size="9.8" fill="#fff" text-anchor="middle" font-weight="bold" textLength="17.5" lengthAdjust="spacingAndGlyphs">25K</text>
<text x="1218" y="644.3" font-size="9.8" fill="#fff" text-anchor="middle" font-weight="bold" textLength="23" lengthAdjust="spacingAndGlyphs">319K</text>
<text x="1218" y="769.1" font-size="9.8" fill="#fff" text-anchor="middle" font-weight="bold" textLength="17.5" lengthAdjust="spacingAndGlyphs">54K</text>
<text x="1218" y="793.2" font-size="9.8" fill="#fff" text-anchor="middle" font-weight="bold" textLength="17" lengthAdjust="spacingAndGlyphs">19K</text>
<text x="952.6" y="815.3" font-size="9.7" fill="#666" text-anchor="middle" textLength="22" lengthAdjust="spacingAndGlyphs" stroke="#666" stroke-width=".18">2012</text>
<text x="1018.8" y="815.3" font-size="9.7" fill="#666" text-anchor="middle" textLength="22" lengthAdjust="spacingAndGlyphs" stroke="#666" stroke-width=".18">2013</text>
<text x="1085" y="815.3" font-size="9.7" fill="#666" text-anchor="middle" textLength="22" lengthAdjust="spacingAndGlyphs" stroke="#666" stroke-width=".18">2014</text>
<text x="1151.4" y="815.3" font-size="9.7" fill="#666" text-anchor="middle" textLength="22" lengthAdjust="spacingAndGlyphs" stroke="#666" stroke-width=".18">2015</text>
<text x="1218" y="815.3" font-size="9.7" fill="#666" text-anchor="middle" textLength="22" lengthAdjust="spacingAndGlyphs" stroke="#666" stroke-width=".18">2016</text>
<circle cx="993" cy="824.600" r="4.600" fill="#c8c8c8"/><circle cx="1031" cy="824.600" r="4.600" fill="#fd625e"/><circle cx="1097.200" cy="824.600" r="4.600" fill="#8ad4eb"/>
<text x="999" y="828.2" font-size="10" fill="#555" textLength="21.5" lengthAdjust="spacingAndGlyphs" stroke="#555" stroke-width=".18">Cash</text>
<text x="1036.6" y="828.2" font-size="10" fill="#555" textLength="49.7" lengthAdjust="spacingAndGlyphs" stroke="#555" stroke-width=".18">CDN Broad</text>
<text x="1103.3" y="828.2" font-size="10" fill="#555" textLength="40.7" lengthAdjust="spacingAndGlyphs" stroke="#555" stroke-width=".18">US Broad</text>
</svg>
<!--/CANVAS-->
<!--PANES-->
<div class="a" style="left:1304px;top:147px;width:1px;height:739px;background:#fff"></div>
<div class="a" style="left:1305px;top:147px;width:66px;height:739px;background:#222;border-left:1px solid #000;border-top:1px solid #000;border-right:1px solid #000"></div>
<div class="a" style="left:1338px;top:147px;width:1px;height:739px;background:#000"></div>
<svg style="left:1317px;top:165px" width="10" height="12" viewBox="0 0 10 12"><path d="M8 .5L1.500 6 8 11.500" fill="none" stroke="#ddd" stroke-width="1.300"/></svg>
<svg style="left:1350px;top:165px" width="10" height="12" viewBox="0 0 10 12"><path d="M8 .5L1.500 6 8 11.500" fill="none" stroke="#ddd" stroke-width="1.300"/></svg>
<div class="t" style="left:1321.500px;top:208.800px;font-size:13.400px;font-weight:bold;color:#fff;transform-origin:0 0;transform:rotate(90deg) translateY(-50%)"><span id="pv">Visualizations</span><span style="display:inline-block;width:19.500px"></span><span id="pf">Filters</span></div>
<div class="t" style="left:1354.500px;top:208.800px;font-size:13.400px;font-weight:bold;color:#fff;transform-origin:0 0;transform:rotate(90deg) translateY(-50%)"><span id="pfi">Fields</span></div>
<!--/PANES-->
<!--PAGETABS-->
<div class="a" style="left:50px;top:861px;width:1254px;height:1px;background:#fff"></div>
<div class="a" style="left:50px;top:862px;width:1254px;height:24px;background:#eaeaea"></div>
<svg style="left:55px;top:869px" width="24" height="10" viewBox="0 0 24 10"><path d="M5 .5v9l-4.500-4.500z" fill="#c4c4c4"/><path d="M17.500 .5v9l4.500-4.500z" fill="#c4c4c4"/></svg>
<div class="a" style="left:84px;top:862px;width:1px;height:24px;background:#b5b5b5"></div>
<div class="a" style="left:177px;top:862px;width:1px;height:24px;background:#cfcfcf"></div>
<div class="t c" style="left:132px;top:867.700px;font-size:12px;color:#727272">Overview</div>
<div class="a" style="left:267px;top:862px;width:1px;height:24px;background:#cfcfcf"></div>
<div class="t c" style="left:223.75px;top:867.700px;font-size:12px;color:#727272">Holdings</div>
<div class="a" style="left:370px;top:862px;width:1px;height:24px;background:#cfcfcf"></div>
<div class="t c" style="left:320.25px;top:867.700px;font-size:12px;color:#727272">Daily Mvmt</div>
<div class="a" style="left:478px;top:862px;width:1px;height:24px;background:#cfcfcf"></div>
<div class="t c" style="left:425.5px;top:867.700px;font-size:12px;color:#727272">Mthly Mvmt</div>
<div class="a" style="left:575px;top:862px;width:1px;height:24px;background:#cfcfcf"></div>
<div class="t c" style="left:528px;top:867.700px;font-size:12px;color:#727272">Yrly Mvmt</div>
<div class="a" style="left:700px;top:862px;width:1px;height:24px;background:#cfcfcf"></div>
<div class="t c" style="left:639px;top:867.700px;font-size:12px;color:#727272">Symbol Gain %</div>
<div class="a" style="left:795px;top:862px;width:1px;height:24px;background:#cfcfcf"></div>
<div class="t c" style="left:749px;top:867.700px;font-size:12px;color:#727272">Dividends</div>
<div class="a" style="left:794px;top:862px;width:98px;height:24px;background:#fff;border-bottom:2px solid #f2c811;border-left:1px solid #d0d0d0;border-right:1px solid #c4c4c4"></div>
<div class="t c" style="left:844.5px;top:867.700px;font-size:12px;color:#555">Allocation</div>
<div class="t c" style="left:927.75px;top:867.700px;font-size:12px;color:#727272">Profit</div>
<div class="a" style="left:961px;top:862px;width:39px;height:24px;background:#f2c811"></div>
<svg style="left:974.500px;top:868px" width="11" height="11" viewBox="0 0 11 11"><path d="M5.500 0v11M0 5.500h11" stroke="#555" stroke-width="2.600"/></svg>
<!--/PAGETABS-->
<!--STATUS-->
<div class="a" style="left:8px;top:886px;width:1363px;height:22px;background:#333"></div>
<div class="t" style="left:13px;top:891px;font-size:10.500px;letter-spacing:.2px;font-weight:bold;color:#fff" id="st">PAGE 8 OF 9</div>
<!--/STATUS-->
</body></html>
